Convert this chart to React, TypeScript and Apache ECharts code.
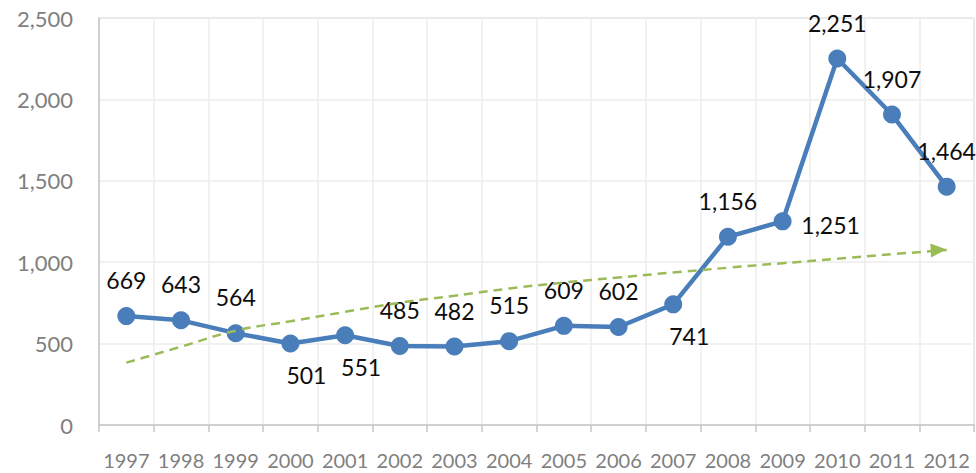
import React, { useEffect, useRef } from "react";
import * as echarts from "echarts";

const years = ["1997","1998","1999","2000","2001","2002","2003","2004","2005","2006","2007","2008","2009","2010","2011","2012"];
const values = [669, 643, 564, 501, 551, 485, 482, 515, 609, 602, 741, 1156, 1251, 2251, 1907, 1464];
// label placement per point: "top" | "bottom" | "right"
const labelPlaces = ["top","top","top","bottom","bottom","top","top","top","top","top","bottom","top","right","top","top","top"];
// dashed trend line
const trend = [383, 481, 579, 637, 695, 751, 794, 838, 875, 906, 937, 966, 994, 1021, 1049, 1075];
const yTicks = { min: 0, max: 2500, interval: 500 };

const FONT = "Lato, 'Noto Sans', sans-serif";

export default function App() {
  const ref = useRef<HTMLDivElement>(null);
  useEffect(() => {
    if (!ref.current) return;
    const chart = echarts.init(ref.current, null, { renderer: "svg" });
    const offsets: Record<string, number[]> = {
      top: [0, -36],
      bottom: [16, 32],
      right: [48, 4],
    };
    const mainData = values.map((v, i) => ({
      value: v,
      label: { offset: offsets[labelPlaces[i]] },
    }));
    const trendData: any[] = trend.map((v) => v);
    const last = trendData.length - 1;
    trendData[last] = {
      value: trend[last],
      symbol: "triangle",
      symbolSize: [14, 16],
      symbolRotate: -87,
      symbolOffset: [-8, 0],
      itemStyle: { color: "#9bbb59" },
    };
    chart.setOption({
      animation: false,
      backgroundColor: "#ffffff",
      grid: {
        left: 99,
        top: 18,
        right: 2,
        bottom: 48,
        show: true,
        borderColor: "#c6c6c6",
        borderWidth: 1,
      },
      xAxis: {
        type: "category",
        data: years,
        boundaryGap: true,
        axisLine: { show: true, lineStyle: { color: "#c6c6c6", width: 1.5 } },
        axisTick: { show: true, alignWithLabel: false, length: 7, lineStyle: { color: "#c6c6c6", width: 1.5 } },
        axisLabel: { color: "#7f7f7f", fontSize: 20, fontFamily: FONT, margin: 25, interval: 0 },
        splitLine: { show: true, interval: 0, lineStyle: { color: "#ececec", width: 1.5 } },
      },
      yAxis: {
        type: "value",
        min: yTicks.min,
        max: yTicks.max,
        interval: yTicks.interval,
        axisLine: { show: true, lineStyle: { color: "#c6c6c6", width: 1.5 } },
        axisTick: { show: false },
        axisLabel: {
          color: "#7f7f7f",
          fontSize: 22,
          fontFamily: FONT,
          margin: 26,
          formatter: (v: number) => v.toLocaleString("en-US"),
        },
        splitLine: { show: true, lineStyle: { color: "#ececec", width: 1.5 } },
      },
      series: [
        {
          type: "line",
          data: mainData,
          z: 2,
          symbol: "circle",
          symbolSize: 18,
          lineStyle: { color: "#4a7ebb", width: 4.5 },
          itemStyle: { color: "#4a7ebb" },
          label: {
            show: true,
            position: "inside",
            color: "#0d0d0d",
            fontSize: 23,
            fontFamily: FONT,
            formatter: (p: any) => Number(p.value).toLocaleString("en-US"),
          },
        },
        {
          type: "line",
          data: trendData,
          z: 3,
          smooth: true,
          symbol: "none",
          lineStyle: { color: "#9bbb59", width: 2.5, type: [9, 6] },
          itemStyle: { color: "#9bbb59" },
          label: { show: false },
        },
      ],
    });
    return () => chart.dispose();
  }, []);
  return (
    <div
      ref={ref}
      style={{ position: "fixed", left: 0, top: 0, width: 976, height: 473 }}
    />
  );
}
